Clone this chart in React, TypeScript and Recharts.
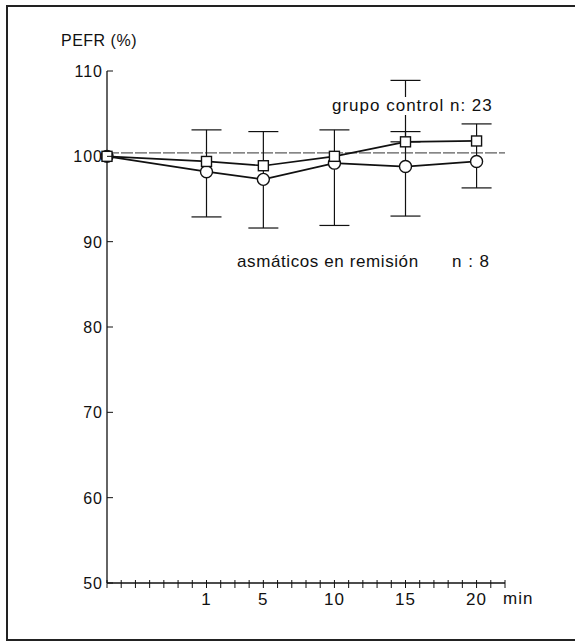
import React from 'react';
import { LineChart, Line, XAxis, YAxis, ReferenceLine, ErrorBar } from 'recharts';

// horizontal positions on the tick grid (28 small divisions) for 0, 1, 5, 10, 15, 20 min
const xPositions = [0, 7, 11, 16, 21, 26];
const controlValues = [100, 99.4, 98.9, 100.0, 101.7, 101.8];
const asthmaValues = [100, 98.2, 97.3, 99.2, 98.8, 99.4];
// [below, above]
const asthmaErrors = [null, [5.3, 4.9], [5.7, 5.6], [7.3, 3.9], [5.8, 4.1], [3.1, 4.4]];
const controlErrors = [null, null, null, null, [0, 7.2], null];

const yTicks = [50, 60, 70, 80, 90, 100, 110];
const xTicks = [0, 1, 2, 3, 4, 5, 6, 7, 8, 9, 10, 11, 12, 13, 14, 15, 16, 17, 18, 19, 20, 21, 22, 23, 24, 25, 26, 27, 28];
const xTickLabels: Record<number, string> = { 7: '1', 11: '5', 16: '10', 21: '15', 26: '20' };

const data = xPositions.map((x, i) => ({
    x,
    control: controlValues[i],
    asthma: asthmaValues[i],
    asthmaErr: asthmaErrors[i],
    controlErr: controlErrors[i],
}));

const FONT = '"Liberation Sans", Arial, sans-serif';
const INK = '#111';

const XTick = (props: any) => {
    const { x, y, payload } = props;
    const label = xTickLabels[payload.value];
    return (
        <g>
            <line x1={x} x2={x} y1={y - 3} y2={y + 5} stroke={INK} strokeWidth={1} />
            {label && (
                <text x={x} y={y + 22} textAnchor="middle" fontSize={17} letterSpacing={1} fill={INK} fontFamily={FONT}>
                    {label}
                </text>
            )}
        </g>
    );
};

const YTick = (props: any) => {
    const { x, y, payload } = props;
    return (
        <g>
            <line x1={x} x2={x + 6} y1={y} y2={y} stroke={INK} strokeWidth={1} />
            <text x={x - 4} y={y + 6} textAnchor="end" fontSize={16} letterSpacing={1} fill={INK} fontFamily={FONT}>
                {payload.value}
            </text>
        </g>
    );
};

const renderSquare = (props: any) => {
    const { cx, cy, index } = props;
    return <rect key={`sq-${index}`} x={cx - 5} y={cy - 5} width={10} height={10} fill="#fff" stroke={INK} strokeWidth={1.4} />;
};

const textStyle: React.CSSProperties = {
    position: 'absolute',
    fontFamily: FONT,
    color: INK,
    whiteSpace: 'nowrap',
};

export default function App() {
    return (
        <div style={{ position: 'absolute', left: 0, top: 0, width: 575, height: 642, background: '#fff' }}>
            <LineChart width={575} height={642} data={data} margin={{ top: 71, right: 70, bottom: 29, left: 57 }}>
                <XAxis
                    dataKey="x"
                    type="number"
                    domain={[0, 28]}
                    ticks={xTicks}
                    interval={0}
                    tick={<XTick />}
                    tickLine={false}
                    tickSize={0}
                    tickMargin={0}
                    height={30}
                    axisLine={{ stroke: INK, strokeWidth: 1.3 }}
                />
                <YAxis
                    type="number"
                    domain={[50, 110]}
                    ticks={yTicks}
                    interval={0}
                    allowDataOverflow
                    tick={<YTick />}
                    tickLine={false}
                    tickSize={0}
                    tickMargin={0}
                    width={50}
                    axisLine={{ stroke: INK, strokeWidth: 1.3 }}
                />
                <ReferenceLine y={100.4} stroke="#333" strokeWidth={1} strokeDasharray="12 2" />
                <Line
                    dataKey="asthma"
                    stroke={INK}
                    strokeWidth={1.7}
                    dot={{ r: 6, fill: '#fff', stroke: INK, strokeWidth: 1.4 }}
                    isAnimationActive={false}
                >
                    <ErrorBar dataKey="asthmaErr" direction="y" width={15} stroke={INK} strokeWidth={1.2} />
                </Line>
                <Line dataKey="control" stroke={INK} strokeWidth={1.7} dot={renderSquare} isAnimationActive={false}>
                    <ErrorBar dataKey="controlErr" direction="y" width={15} stroke={INK} strokeWidth={1.2} />
                </Line>
            </LineChart>
            {/* page frame */}
            <div
                style={{
                    position: 'absolute',
                    left: 6,
                    top: 5,
                    width: 569,
                    height: 636,
                    boxSizing: 'border-box',
                    borderTop: '2px solid #222',
                    borderLeft: '2px solid #222',
                    borderBottom: '2px solid #222',
                    pointerEvents: 'none',
                }}
            />
            <div style={{ ...textStyle, left: 61, top: 32, fontSize: 16, lineHeight: '18px', letterSpacing: 0.5 }}>PEFR (%)</div>
            <div style={{ ...textStyle, left: 330, top: 97, fontSize: 17, lineHeight: '18px', letterSpacing: 1, background: '#fff', padding: '0 2px' }}>
                grupo control n: 23
            </div>
            <div style={{ ...textStyle, left: 237, top: 253, fontSize: 17, lineHeight: '18px', letterSpacing: 0.6 }}>asmáticos en remisión</div>
            <div style={{ ...textStyle, left: 452, top: 253, fontSize: 17, lineHeight: '18px', letterSpacing: 1 }}>n : 8</div>
            <div style={{ ...textStyle, left: 503, top: 590, fontSize: 17, lineHeight: '18px', letterSpacing: 1 }}>min</div>
        </div>
    );
}
